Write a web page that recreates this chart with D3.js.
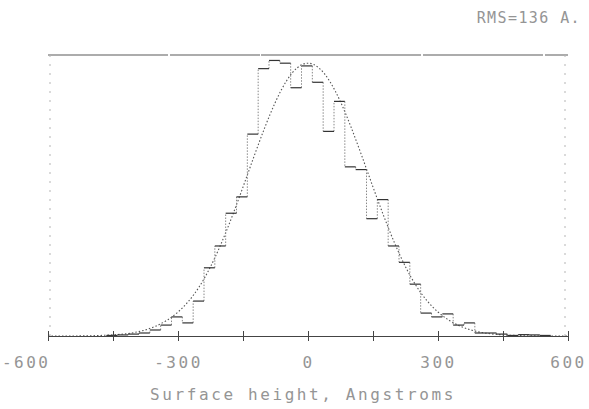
<!DOCTYPE html>
<html>
<head>
<meta charset="utf-8">
<script src="https://cdn.jsdelivr.net/npm/d3@7"></script>
<style>
  body { margin: 0; background: #fff; }
  text { font-family: "DejaVu Sans Mono", monospace; fill: #959595; }
</style>
</head>
<body>
<svg id="chart"></svg>
<script>
// Chart size
const width = 589;
const height = 409;

// Histogram: left edge of each 25 A bin, and the count in it
const binLeft = [-465, -440, -415, -390, -365, -340, -315, -290, -265, -240, -215,
  -190, -165, -140, -115, -90, -65, -40, -15, 10, 35, 60, 85, 110, 135, 160, 185,
  210, 235, 260, 285, 310, 335, 360, 385, 410, 435, 460, 485, 510, 535];
const binCount = [0.2, 0.4, 0.7, 1.1, 2.2, 4.0, 7.0, 4.8, 12.8, 25, 33,
  45, 51, 74, 98, 101, 100, 91, 99, 93, 75, 86, 62, 61, 43, 50, 33,
  27, 19, 8.4, 7.0, 8.1, 4.0, 4.8, 1.1, 1.1, 0.7, 0.2, 0.5, 0.4, 0.2];
const binWidth = 25;

// Fitted curve
const fitX = [-600, -550, -500, -450, -400, -350, -300, -250, -200, -150, -100, -50, 0,
  50, 100, 150, 200, 250, 300, 350, 400, 450, 500, 550, 600];
const fitY = [0, 0.01, 0.1, 0.42, 1.3, 3.7, 8.8, 18.3, 34, 54.6, 76.3, 93.4, 100,
  93.4, 76.3, 54.6, 34, 18.3, 8.8, 3.7, 1.3, 0.42, 0.1, 0.01, 0];

// Axis ticks and labels
const tickValues = [-600, -450, -300, -150, 0, 150, 300, 450, 600];
const labelValues = [-600, -300, 0, 300, 600];
const title = "RMS=136 A.";
const xTitle = "Surface height, Angstroms";

const svg = d3.select("#chart").attr("width", width).attr("height", height);

const x = d3.scaleLinear().domain([-600, 600]).range([48, 568]);
const y = d3.scaleLinear().domain([0, 103]).range([336, 55]);

// Frame: top line and faint dotted sides
svg.append("line")
  .attr("x1", x(-600)).attr("x2", x(600))
  .attr("y1", y(103)).attr("y2", y(103))
  .attr("stroke", "#5a5a5a").attr("stroke-width", 1.1)
  .attr("stroke-dasharray", "120,2,90,1,160,2");

[x(-600) + 2, x(600) - 3].forEach((px) => {
  svg.append("line")
    .attr("x1", px).attr("x2", px)
    .attr("y1", y(103)).attr("y2", y(0))
    .attr("stroke", "#b5b5b5").attr("stroke-width", 1)
    .attr("stroke-dasharray", "2,7");
});

// Fitted curve (dotted)
const curve = d3.line()
  .x((d, i) => x(fitX[i]))
  .y((d) => y(d))
  .curve(d3.curveNatural);

svg.append("path")
  .datum(fitY)
  .attr("d", curve)
  .attr("fill", "none")
  .attr("stroke", "#555")
  .attr("stroke-width", 1.1)
  .attr("stroke-dasharray", "1.5,2");

// Histogram risers (faint, dotted)
const risers = binLeft.map((b, i) => ({
  x: b,
  from: i === 0 ? 0 : binCount[i - 1],
  to: binCount[i],
}));
risers.push({ x: binLeft[binLeft.length - 1] + binWidth, from: binCount[binCount.length - 1], to: 0 });

svg.append("g")
  .selectAll("line")
  .data(risers)
  .join("line")
  .attr("x1", (d) => x(d.x)).attr("x2", (d) => x(d.x))
  .attr("y1", (d) => y(d.from)).attr("y2", (d) => y(d.to))
  .attr("stroke", "#888")
  .attr("stroke-width", 1)
  .attr("stroke-dasharray", "1.5,1.5");

// Histogram tops (solid)
svg.append("g")
  .selectAll("line")
  .data(binLeft)
  .join("line")
  .attr("x1", (d) => x(d)).attr("x2", (d) => x(d + binWidth))
  .attr("y1", (d, i) => y(binCount[i])).attr("y2", (d, i) => y(binCount[i]))
  .attr("stroke", "#333")
  .attr("stroke-width", 1.2);

// Bottom axis with cross ticks
const axis = d3.axisBottom(x)
  .tickValues(tickValues)
  .tickSizeInner(5)
  .tickSizeOuter(0)
  .tickPadding(16)
  .tickFormat((d) => (labelValues.includes(d) ? (d < 0 ? "-" + Math.abs(d) : String(d)) : ""));

const gx = svg.append("g")
  .attr("transform", `translate(0,${y(0)})`)
  .call(axis);

gx.select(".domain").attr("stroke", "#444").attr("stroke-width", 1);
gx.selectAll(".tick line").attr("y1", -5).attr("y2", 5).attr("stroke", "#444");
gx.selectAll(".tick text")
  .attr("font-family", "DejaVu Sans Mono")
  .attr("font-size", 16)
  .attr("letter-spacing", 2.5)
  .attr("fill", "#959595")
  .attr("text-anchor", (d) => (d === -600 ? "end" : "middle"))
  .attr("dx", (d) => (d === -600 ? 2 : 0));

// Axis title
svg.append("text")
  .attr("x", 303)
  .attr("y", 400)
  .attr("text-anchor", "middle")
  .attr("font-size", 16)
  .attr("letter-spacing", 2.6)
  .text(xTitle);

// RMS label
svg.append("text")
  .attr("x", 581)
  .attr("y", 23)
  .attr("text-anchor", "end")
  .attr("font-size", 15)
  .attr("letter-spacing", 1.4)
  .text(title);
</script>
</body>
</html>
